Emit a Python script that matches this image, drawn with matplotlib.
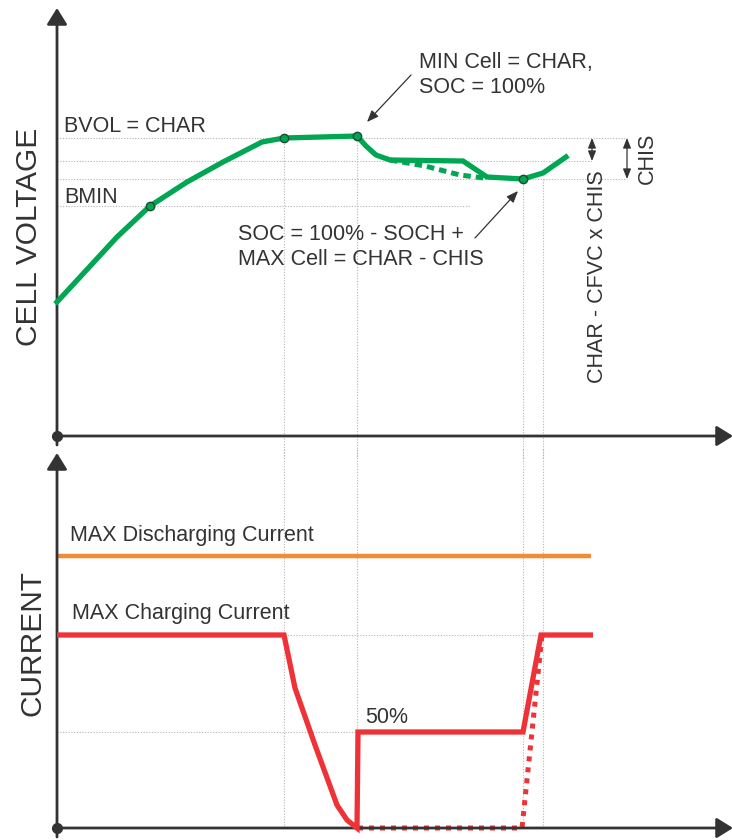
import matplotlib.pyplot as plt

plt.rcParams['font.family'] = ['Liberation Sans', 'DejaVu Sans']

# 시간축 (임의 단위)
t_volt = [0, 60, 93, 130, 166, 205, 227, 300, 309, 319, 333, 406, 430, 466, 486, 509]
v_cell = [134, 199, 230, 254, 274, 294, 298, 300, 290, 281, 276, 275, 259, 257, 263, 279]
t_volt_alt = [333, 368, 403, 427]
v_cell_alt = [276, 270, 261, 258]
dot_t = [93, 227, 300, 466]
dot_v = [230, 298, 300, 257]

CHAR = 298
MID = 275
CHAR_CHIS = 257
BMIN = 230

# 전류
t_dis = [0, 534]
i_dis = [272, 272]
t_chg = [0, 227, 238, 258, 280, 290, 300, 301, 466, 484, 536]
i_chg = [193, 193, 140, 83, 23, 8, 0, 96, 96, 193, 193]
t_chg_alt = [301, 465, 485]
i_chg_alt = [0, 0, 193]
I_MAX = 193
I_HALF = 96

v_marks = [227, 300, 466, 486]

GREEN = '#00a651'
RED = '#ee3237'
ORANGE = '#f68a33'
AXC = '#333333'
GRID = '#b5b5b5'
FS = 15.5

fig = plt.figure(figsize=(7.32, 8.4), dpi=100)
ax1 = fig.add_axes([57 / 732, 1 - 436 / 840, 675 / 732, 426 / 840])
ax2 = fig.add_axes([57 / 732, 12 / 840, 675 / 732, 373 / 840])
ax1.set_xlim(0, 675)
ax1.set_ylim(0, 426)
ax2.set_xlim(0, 675)
ax2.set_ylim(0, 373)
for ax in (ax1, ax2):
    ax.axis('off')

grid_kw = dict(color=GRID, lw=0.8, ls=(0, (1, 1.5)), clip_on=False, zorder=1)

# ---- 위쪽: 셀 전압 ----
ax1.plot([0, 570], [CHAR, CHAR], **grid_kw)
ax1.plot([0, 536], [MID, MID], **grid_kw)
ax1.plot([0, 570], [CHAR_CHIS, CHAR_CHIS], **grid_kw)
ax1.plot([0, 413], [BMIN, BMIN], **grid_kw)
for tv, top in zip(v_marks, [298, 300, 257, 257]):
    ax1.plot([tv, tv], [top, -22], **grid_kw)

ax1.plot(t_volt_alt, v_cell_alt, color=GREEN, lw=3.6, ls=(0, (1.5, 1.0)), clip_on=False, zorder=3)
ax1.plot(t_volt, v_cell, color=GREEN, lw=3.8, clip_on=False, zorder=4, solid_joinstyle='miter')
ax1.plot(dot_t, dot_v, 'o', ms=6, mfc=GREEN, mec='#1e4a30', mew=1, clip_on=False, zorder=5)

# 축
arr = dict(arrowstyle='-|>,head_length=0.45,head_width=0.28', color=AXC, lw=2, mutation_scale=22,
           shrinkA=0, shrinkB=0)
ax1.annotate('', xy=(0, 428), xytext=(0, -9), arrowprops=arr, annotation_clip=False)
ax1.annotate('', xy=(676, 0), xytext=(0, 0), arrowprops=arr, annotation_clip=False)
ax1.plot([0], [0], 'o', ms=7, color=AXC, clip_on=False, zorder=6)

txt = dict(color=AXC, fontsize=FS, va='baseline')
ax1.text(7, 304, 'BVOL = CHAR', **txt)
ax1.text(7, 233, 'BMIN', **txt)
ax1.text(362, 368, 'MIN Cell = CHAR,', **txt)
ax1.text(362, 343, 'SOC = 100%', **txt)
ax1.text(181, 196, 'SOC = 100% - SOCH +', **txt)
ax1.text(181, 171, 'MAX Cell = CHAR - CHIS', **txt)
ax1.text(-20, 199, 'CELL VOLTAGE', color=AXC, fontsize=21.5, rotation=90, rotation_mode='anchor',
         ha='center', va='baseline')
ax1.text(546, 159, 'CHAR - CFVC x CHIS', color=AXC, fontsize=FS, rotation=90, rotation_mode='anchor',
         ha='center', va='baseline')
ax1.text(596, 278, 'CHIS', color=AXC, fontsize=FS, rotation=90, rotation_mode='anchor',
         ha='center', va='baseline')

thin = dict(arrowstyle='-|>,head_length=0.5,head_width=0.2', color=AXC, lw=0.9, mutation_scale=14,
            shrinkA=0, shrinkB=0)
ax1.annotate('', xy=(310, 314), xytext=(354, 361), arrowprops=thin, annotation_clip=False)
ax1.annotate('', xy=(461, 245), xytext=(418, 198), arrowprops=thin, annotation_clip=False)
dbl = dict(arrowstyle='<|-|>,head_length=0.5,head_width=0.2', color=AXC, lw=0.9, mutation_scale=12,
           shrinkA=0, shrinkB=0)
ax1.annotate('', xy=(535, CHAR), xytext=(535, MID), arrowprops=dbl, annotation_clip=False)
ax1.annotate('', xy=(570, CHAR), xytext=(570, CHAR_CHIS), arrowprops=dbl, annotation_clip=False)

# ---- 아래쪽: 전류 ----
ax2.plot([0, 484], [I_MAX, I_MAX], **grid_kw)
ax2.plot([0, 301], [I_HALF, I_HALF], **grid_kw)
for tv in v_marks:
    ax2.plot([tv, tv], [0, 380], **grid_kw)

ax2.plot(t_dis, i_dis, color=ORANGE, lw=3.2, clip_on=False, zorder=3, solid_capstyle='butt')
ax2.plot(t_chg_alt, i_chg_alt, color=RED, lw=3.6, ls=(0, (1.0, 1.2)), clip_on=False, zorder=3)
ax2.plot(t_chg, i_chg, color=RED, lw=3.8, clip_on=False, zorder=4, solid_joinstyle='miter',
         solid_capstyle='butt')

ax2.annotate('', xy=(0, 375), xytext=(0, -9), arrowprops=arr, annotation_clip=False)
ax2.annotate('', xy=(676, 0), xytext=(0, 0), arrowprops=arr, annotation_clip=False)
ax2.plot([0], [0], 'o', ms=7, color=AXC, clip_on=False, zorder=6)

ax2.text(13, 287, 'MAX Discharging Current', **txt)
ax2.text(15, 209, 'MAX Charging Current', **txt)
ax2.text(308, 105, '50%', **txt)
ax2.text(-16, 185, 'CURRENT', color=AXC, fontsize=21.5, rotation=90, rotation_mode='anchor',
         ha='center', va='baseline')

plt.savefig('out.png', dpi=100)
